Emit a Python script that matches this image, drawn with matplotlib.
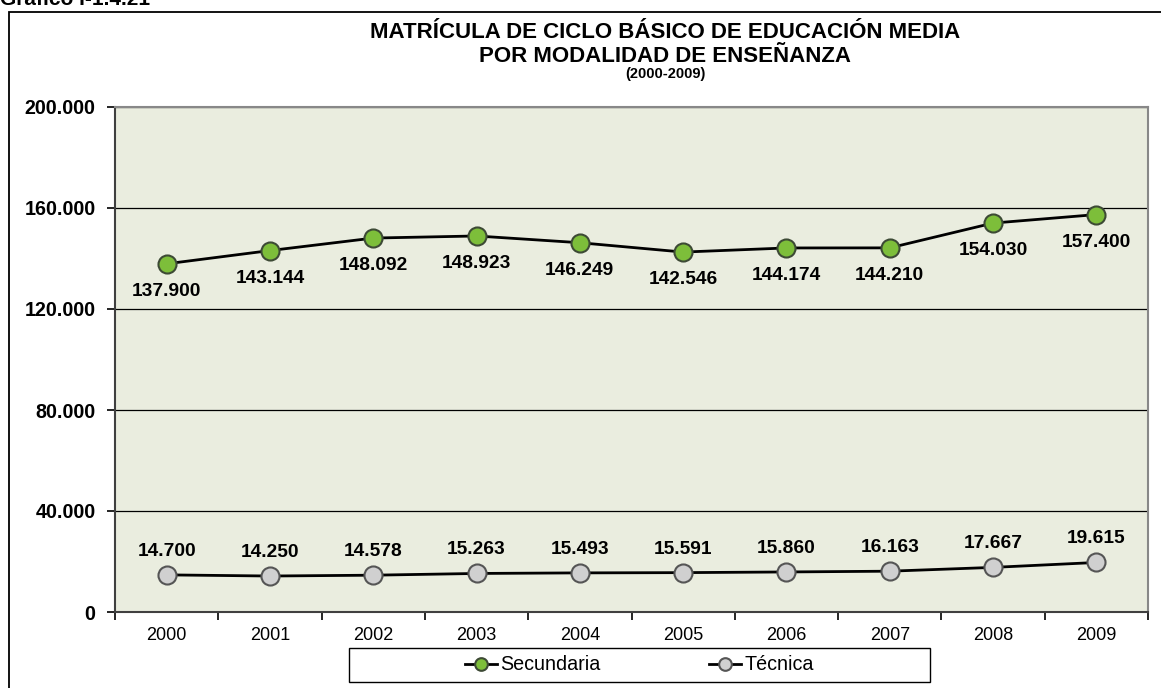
import matplotlib.pyplot as plt
from matplotlib.patches import Rectangle

anios = ['2000', '2001', '2002', '2003', '2004', '2005', '2006', '2007', '2008', '2009']
secundaria = [137900, 143144, 148092, 148923, 146249, 142546, 144174, 144210, 154030, 157400]
tecnica = [14700, 14250, 14578, 15263, 15493, 15591, 15860, 16163, 17667, 19615]
yticks = [0, 40000, 80000, 120000, 160000, 200000]


def fmt(v):
    return '{:,}'.format(v).replace(',', '.')


plt.rcParams['font.family'] = ['Liberation Sans', 'DejaVu Sans']

fig = plt.figure(figsize=(11.61, 6.88), dpi=100)

# marco exterior y titulo cortado arriba
fig.patches.append(Rectangle((9 / 1161, -0.1), 1.2, 1.1 - 12 / 688, transform=fig.transFigure,
                             fill=False, edgecolor='black', linewidth=1.3))
fig.text(0.0, 1.0 + 1 / 688, 'Gráfico I-1.4.21', fontsize=15, fontweight='bold', va='center', ha='left')

fig.text(0.573, 1 - 33 / 688, 'MATRÍCULA DE CICLO BÁSICO DE EDUCACIÓN MEDIA', fontsize=16,
         fontweight='bold', ha='center', va='center')
fig.text(0.573, 1 - 56 / 688, 'POR MODALIDAD DE ENSEÑANZA', fontsize=16,
         fontweight='bold', ha='center', va='center')
fig.text(0.573, 1 - 74 / 688, '(2000-2009)', fontsize=10.5, fontweight='bold', ha='center', va='center')

ax = fig.add_axes([115 / 1161, 1 - 612 / 688, (1148 - 115) / 1161, (612 - 107) / 688])
ax.set_facecolor('#EAEDDF')

x = list(range(len(anios)))
ax.plot(x, secundaria, color='black', linewidth=2, marker='o', markersize=13,
        markerfacecolor='#7DBE3A', markeredgecolor='#3D4A35', markeredgewidth=1.5,
        label='Secundaria', zorder=3)
ax.plot(x, tecnica, color='black', linewidth=2, marker='o', markersize=13,
        markerfacecolor='#D0D0D0', markeredgecolor='#555555', markeredgewidth=1.5,
        label='Técnica', zorder=3)

for i, v in enumerate(secundaria):
    ax.annotate(fmt(v), (i, v), xytext=(0, -20), textcoords='offset points', ha='center',
                va='center', fontsize=13.8, fontweight='bold')
for i, v in enumerate(tecnica):
    ax.annotate(fmt(v), (i, v), xytext=(0, 17), textcoords='offset points', ha='center',
                va='center', fontsize=13.8, fontweight='bold')

ax.set_xlim(-0.5, len(anios) - 0.5)
ax.set_ylim(0, 200000)
ax.set_yticks(yticks)
ax.set_yticklabels([fmt(t) for t in yticks], fontsize=14.2, fontweight='bold')
ax.yaxis.grid(True, color='black', linewidth=0.9)
ax.set_axisbelow(True)

ax.set_xticks(x)
ax.set_xticklabels(anios, fontsize=13)
ax.set_xticks([i - 0.5 for i in range(len(anios) + 1)], minor=True)
ax.tick_params(axis='x', which='major', length=0, pad=11)
ax.tick_params(axis='x', which='minor', length=6, width=1.2, direction='out')
ax.tick_params(axis='y', length=6, width=1.2, pad=8)

for s in ['left', 'bottom']:
    ax.spines[s].set_color('#404040')
    ax.spines[s].set_linewidth(1.5)
for s in ['top', 'right']:
    ax.spines[s].set_color('#888888')
    ax.spines[s].set_linewidth(1.5)

# caja de la leyenda
fig.patches.append(Rectangle((349 / 1161, 1 - 682 / 688), (930 - 349) / 1161, 34 / 688,
                             transform=fig.transFigure, fill=False, edgecolor='black', linewidth=1.0))
fig.legend(loc='center', bbox_to_anchor=(639.5 / 1161, 1 - 665 / 688), ncol=2,
           fontsize=14.2, frameon=False, columnspacing=5.5, handlelength=1.6,
           handletextpad=0.2, borderpad=0.3, markerscale=0.7)

fig.savefig('out.png', dpi=100)
